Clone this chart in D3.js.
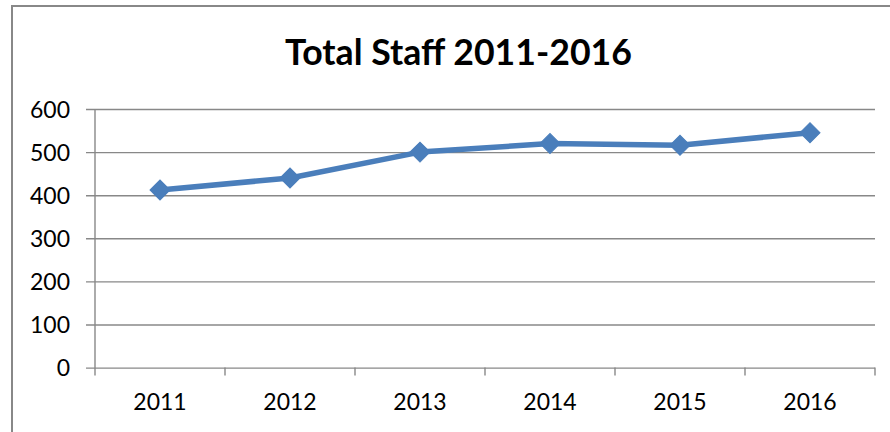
<!DOCTYPE html>
<html><head><meta charset="utf-8">
<script src="https://cdn.jsdelivr.net/npm/d3@7"></script>
<style>html,body{margin:0;padding:0;background:#fff;}svg{display:block;}</style>
</head><body>
<svg id="chart" width="890" height="432"></svg>
<script>
const years = ["2011","2012","2013","2014","2015","2016"];
const staff = [412, 440, 500, 520, 516, 545];
const yTicks = [0, 100, 200, 300, 400, 500, 600];
const titleText = "Total Staff 2011-2016";

(function () {
const svg = d3.select("#chart");
const font = "Lato, 'Open Sans', sans-serif";
const gridColor = "#888888";
const lineColor = "#4a7ebb";

const pLeft = 95, pRight = 875, pTop = 109, pBottom = 367.6;

// outer chart border
svg.append("rect").attr("x", 12).attr("y", 6).attr("width", 900).attr("height", 440)
  .attr("fill", "#fff").attr("stroke", gridColor).attr("stroke-width", 2);

const x = d3.scaleBand().domain(years).range([pLeft, pRight]).padding(0);
const y = d3.scaleLinear().domain([0, 600]).range([pBottom, pTop]);

// gridlines + y ticks
const yAxis = d3.axisLeft(y).tickValues(yTicks).tickSize(-(pRight - pLeft)).tickSizeOuter(0).tickPadding(16);
const gy = svg.append("g").attr("transform", `translate(${pLeft},0)`).call(yAxis);
gy.select(".domain").remove();
gy.selectAll(".tick line").attr("stroke", gridColor).attr("stroke-width", 1.4).attr("x1", -9);
gy.selectAll(".tick text").attr("x", -25).attr("font-family", font).attr("font-size", 23).attr("fill", "#000").attr("dy", "0.36em");

// y axis line
svg.append("line").attr("x1", pLeft).attr("x2", pLeft).attr("y1", pTop).attr("y2", pBottom + 8)
  .attr("stroke", gridColor).attr("stroke-width", 1.4);

// x axis
const xAxis = d3.axisBottom(x).tickSize(0).tickPadding(0);
const gx = svg.append("g").attr("transform", `translate(0,${pBottom})`).call(xAxis);
gx.select(".domain").remove();
gx.selectAll(".tick text").attr("y", 34).attr("dy", "0.36em").attr("font-family", font).attr("font-size", 23).attr("fill", "#000");
// category boundary ticks
const bounds = years.map(d => x(d) + x.bandwidth());
svg.append("g").selectAll("line").data(bounds).join("line")
  .attr("x1", d => d).attr("x2", d => d).attr("y1", pBottom).attr("y2", pBottom + 8)
  .attr("stroke", gridColor).attr("stroke-width", 1.4);

// data line
const pts = years.map((d, i) => [x(d) + x.bandwidth() / 2, y(staff[i])]);
svg.append("path").attr("d", d3.line()(pts)).attr("fill", "none")
  .attr("stroke", lineColor).attr("stroke-width", 5.5).attr("stroke-linejoin", "round");

// diamond markers
const diamond = d3.symbol().type(d3.symbolSquare).size(200);
svg.append("g").selectAll("path").data(pts).join("path")
  .attr("d", diamond)
  .attr("transform", d => `translate(${d[0]},${d[1]}) rotate(45)`)
  .attr("fill", lineColor).attr("stroke", lineColor).attr("stroke-width", 1);

// title, sized to match reference width
const t = svg.append("text").attr("x", 458.5).attr("y", 65).attr("text-anchor", "middle")
  .attr("font-family", font).attr("font-weight", "bold").attr("font-size", 36).attr("fill", "#000")
  .text(titleText);
const w = t.node().getComputedTextLength();
t.attr("font-size", 36 * 347 / w);
})();
</script>
</body></html>
